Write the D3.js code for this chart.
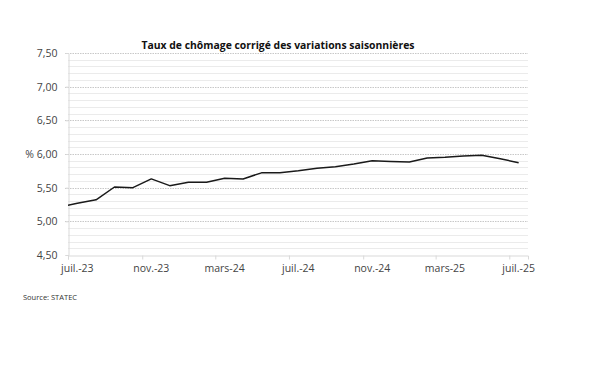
<!DOCTYPE html>
<html>
<head>
<meta charset="utf-8">
<script src="https://cdn.jsdelivr.net/npm/d3@7"></script>
<style>
  body { margin: 0; background: #fff; }
  svg text { font-family: "Open Sans", "Liberation Sans", sans-serif; fill: #333; }
</style>
</head>
<body>
<svg id="chart" width="600" height="375"></svg>
<script>
// monthly series, juin-23 .. juil-25 (the axis starts at juil-23, juin-23 is clipped)
const months = [
    "2023-06", "2023-07", "2023-08", "2023-09", "2023-10", "2023-11", "2023-12",
    "2024-01", "2024-02", "2024-03", "2024-04", "2024-05", "2024-06", "2024-07",
    "2024-08", "2024-09", "2024-10", "2024-11", "2024-12",
    "2025-01", "2025-02", "2025-03", "2025-04", "2025-05", "2025-06", "2025-07"
];
const rates = [
    5.21, 5.27, 5.32, 5.51, 5.50, 5.63, 5.53,
    5.58, 5.58, 5.64, 5.63, 5.72, 5.72, 5.75,
    5.79, 5.81, 5.85, 5.90, 5.89,
    5.88, 5.94, 5.95, 5.97, 5.98, 5.93, 5.87
];
const yTicks = [4.5, 5.0, 5.5, 6.0, 6.5, 7.0, 7.5];
const xTickMonths = ["2023-07", "2023-11", "2024-03", "2024-07", "2024-11", "2025-03", "2025-07"];
const xTickLabels = ["juil.-23", "nov.-23", "mars-24", "juil.-24", "nov.-24", "mars-25", "juil.-25"];

const titleText = "Taux de chômage corrigé des variations saisonnières";
const sourceText = "Source: STATEC";

const svg = d3.select("#chart");
const plot = { left: 68, right: 528, top: 53, bottom: 255 };

const parseMonth = d3.utcParse("%Y-%m");
const midMonth = m => {
    const d = parseMonth(m);
    return new Date((d.getTime() + d3.utcMonth.offset(d, 1).getTime()) / 2);
};

const x = d3.scaleUtc()
    .domain([parseMonth("2023-07"), parseMonth("2025-08")])
    .range([plot.left, plot.right]);
const y = d3.scaleLinear()
    .domain([4.5, 7.5])
    .range([plot.bottom, plot.top]);

// minor gridlines every 0.1
const minor = d3.range(45, 76).map(v => v / 10).filter(v => Math.round(v * 10) % 5 !== 0);
svg.append("g")
    .selectAll("line")
    .data(minor)
    .enter().append("line")
    .attr("x1", plot.left).attr("x2", plot.right)
    .attr("y1", d => Math.round(y(d)) + 0.5).attr("y2", d => Math.round(y(d)) + 0.5)
    .style("stroke", "#ebebeb");

// major gridlines (dotted)
svg.append("g")
    .selectAll("line")
    .data(yTicks.slice(1))
    .enter().append("line")
    .attr("x1", plot.left - 3).attr("x2", plot.right)
    .attr("y1", d => Math.round(y(d)) + 0.5).attr("y2", d => Math.round(y(d)) + 0.5)
    .style("stroke", "#c8c8c8")
    .style("stroke-dasharray", "1.5,1");

// y axis
const yAxis = svg.append("g")
    .attr("transform", `translate(${plot.left + 0.5},0)`)
    .call(d3.axisLeft(y)
        .tickValues(yTicks)
        .tickSize(3)
        .tickPadding(8)
        .tickFormat(d => (d === 6 ? "% " : "") + d3.format(".2f")(d).replace(".", ",")));
yAxis.select(".domain").style("stroke", "#d9d9d9");
yAxis.selectAll(".tick line").style("stroke", "#d9d9d9");
yAxis.selectAll(".tick text").style("font-size", "10.5px").style("fill", "#444");

// x axis: ticks on month starts, labels centred on the month
const xAxis = svg.append("g")
    .attr("transform", `translate(0,${plot.bottom + 0.5})`)
    .call(d3.axisBottom(x)
        .tickValues(xTickMonths.map(parseMonth))
        .tickSize(4)
        .tickFormat(""));
xAxis.select(".domain").style("stroke", "#d9d9d9");
xAxis.selectAll(".tick line").style("stroke", "#d9d9d9");

svg.append("g")
    .selectAll("text")
    .data(xTickMonths)
    .enter().append("text")
    .attr("x", d => x(midMonth(d)))
    .attr("y", plot.bottom + 17)
    .attr("text-anchor", "middle")
    .style("font-size", "10.5px")
    .style("fill", "#444")
    .text((d, i) => xTickLabels[i]);

// clip the line to the plot area
svg.append("clipPath")
    .attr("id", "plotClip")
    .append("rect")
    .attr("x", plot.left).attr("y", plot.top)
    .attr("width", plot.right - plot.left).attr("height", plot.bottom - plot.top);

const line = d3.line()
    .x((d, i) => x(midMonth(months[i])))
    .y(d => y(d));

svg.append("path")
    .datum(rates)
    .attr("clip-path", "url(#plotClip)")
    .attr("d", line)
    .style("fill", "none")
    .style("stroke", "#1a1a1a")
    .style("stroke-width", 1.5)
    .style("stroke-linejoin", "round");

// title
svg.append("text")
    .attr("x", 278)
    .attr("y", 49)
    .attr("text-anchor", "middle")
    .style("font-size", "10.4px")
    .style("font-weight", "bold")
    .style("fill", "#111")
    .text(titleText);

svg.append("text")
    .attr("x", 23)
    .attr("y", 300)
    .style("font-size", "7.5px")
    .style("fill", "#333")
    .text(sourceText);
</script>
</body>
</html>
